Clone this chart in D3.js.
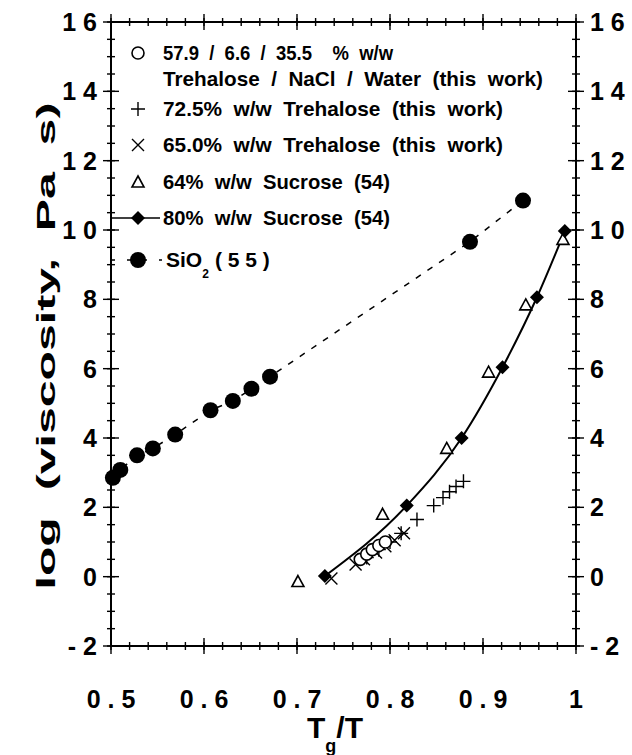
<!DOCTYPE html>
<html>
<head>
<meta charset="utf-8">
<script src="https://cdn.jsdelivr.net/npm/d3@7"></script>
<style>
  html, body { margin: 0; padding: 0; background: #fff; }
  svg text { font-family: "Liberation Sans", Arial, sans-serif; font-weight: bold; fill: #000; white-space: pre; }
</style>
</head>
<body>
<svg id="chart" width="632" height="755"></svg>
<script>
// data: [Tg/T, log viscosity]
var trehNaClWater = [[0.768, 0.5], [0.775, 0.65], [0.781, 0.78], [0.788, 0.9], [0.795, 1.0]];
var treh725 = [[0.775, 0.55], [0.788, 0.78], [0.800, 1.0], [0.812, 1.25], [0.829, 1.65],
               [0.847, 2.05], [0.857, 2.28], [0.864, 2.45], [0.871, 2.6], [0.879, 2.75]];
var treh650 = [[0.737, -0.05], [0.763, 0.35], [0.772, 0.5], [0.785, 0.7], [0.795, 0.88],
               [0.805, 1.05], [0.815, 1.25]];
var sucrose64 = [[0.701, -0.14], [0.792, 1.8], [0.861, 3.7], [0.906, 5.9], [0.946, 7.84], [0.986, 9.73]];
var sucrose80 = [[0.730, 0.02], [0.818, 2.05], [0.877, 4.0], [0.921, 6.04], [0.958, 8.06], [0.988, 9.97]];
var silica = [[0.502, 2.85], [0.510, 3.08], [0.528, 3.5], [0.545, 3.7], [0.569, 4.1], [0.607, 4.8],
              [0.631, 5.07], [0.651, 5.42], [0.671, 5.77], [0.886, 9.66], [0.943, 10.85]];

var xMajor = [0.5, 0.6, 0.7, 0.8, 0.9, 1];
var xLabels = ['0.5', '0.6', '0.7', '0.8', '0.9', '1'];
var yMajor = [-2, 0, 2, 4, 6, 8, 10, 12, 14, 16];
var yLabels = ['- 2', '0', '2', '4', '6', '8', '1 0', '1 2', '1 4', '1 6'];

var legendRows = [
  {sym: 'circle', text: '57.9  /  6.6  /  35.5    %  w/w', w: 230},
  {sym: null, text: 'Trehalose  /  NaCl  /  Water  (this  work)', w: 380},
  {sym: 'plus', text: '72.5%  w/w  Trehalose  (this  work)', w: 340},
  {sym: 'cross', text: '65.0%  w/w  Trehalose  (this  work)', w: 340},
  {sym: 'triangle', text: '64%  w/w  Sucrose  (54)', w: 227},
  {sym: 'diamond', text: '80%  w/w  Sucrose  (54)', w: 227},
  {sym: 'dot', text: 'SiO', w: 36}
];
var legendY = [53, 79, 109, 145, 182, 218, 260];

(function() {
  var svg = d3.select('#chart');
  var x = d3.scaleLinear().domain([0.5, 1]).range([111, 576]);
  var y = d3.scaleLinear().domain([-2, 16]).range([646, 22]);
  var x0 = x.range()[0], x1 = x.range()[1], yb = y.range()[0], yt = y.range()[1];

  // frame
  svg.append('rect')
    .attr('x', x0).attr('y', yt)
    .attr('width', x1 - x0).attr('height', yb - yt)
    .attr('fill', 'none').attr('stroke', '#000').attr('stroke-width', 2);

  var g = svg.append('g').attr('stroke', '#000').attr('stroke-width', 1.4);
  var xMinor = d3.range(0.5, 1.0001, 0.02);
  var yMinor = d3.range(-2, 16.0001, 0.5);

  [yb, yt].forEach(function(py) {
    g.selectAll(null).data(xMinor).enter().append('line')
      .attr('x1', function(d) { return x(d); }).attr('x2', function(d) { return x(d); })
      .attr('y1', py - 4).attr('y2', py + 4);
    g.selectAll(null).data(xMajor).enter().append('line')
      .attr('x1', function(d) { return x(d); }).attr('x2', function(d) { return x(d); })
      .attr('y1', py - 8).attr('y2', py + 8);
  });
  [x0, x1].forEach(function(px) {
    g.selectAll(null).data(yMinor).enter().append('line')
      .attr('y1', function(d) { return y(d); }).attr('y2', function(d) { return y(d); })
      .attr('x1', px - 4).attr('x2', px + 4);
    g.selectAll(null).data(yMajor).enter().append('line')
      .attr('y1', function(d) { return y(d); }).attr('y2', function(d) { return y(d); })
      .attr('x1', px - 8).attr('x2', px + 8);
  });

  // tick labels
  svg.selectAll('text.xl').data(xMajor).enter().append('text')
    .attr('class', 'xl')
    .attr('x', function(d) { return x(d); })
    .attr('y', 708)
    .attr('text-anchor', 'middle')
    .attr('font-size', 25)
    .text(function(d, i) { return xLabels[i].split('').join(' '); });

  svg.selectAll('text.yl').data(yMajor).enter().append('text')
    .attr('class', 'yl')
    .attr('x', 97)
    .attr('y', function(d) { return y(d) + 9; })
    .attr('text-anchor', 'end')
    .attr('font-size', 25)
    .text(function(d, i) { return yLabels[i]; });

  svg.selectAll('text.yr').data(yMajor).enter().append('text')
    .attr('class', 'yr')
    .attr('x', 590)
    .attr('y', function(d) { return y(d) + 9; })
    .attr('font-size', 25)
    .text(function(d, i) { return yLabels[i]; });

  // axis titles
  svg.append('text')
    .attr('transform', 'translate(55,346) rotate(-90)')
    .attr('text-anchor', 'middle')
    .attr('font-size', 26)
    .attr('textLength', 487)
    .attr('lengthAdjust', 'spacingAndGlyphs')
    .text('log  (viscosity,  Pa  s)');

  var xt = svg.append('text').attr('x', 307).attr('y', 738).attr('font-size', 30);
  xt.append('tspan').text('T');
  xt.append('tspan').attr('font-size', 18).attr('dy', 14).text('g');
  xt.append('tspan').attr('dy', -14).text('/T');

  // symbol drawers
  function drawSym(sel, kind) {
    if (kind === 'circle') {
      sel.append('circle').attr('r', 6).attr('fill', '#fff').attr('stroke', '#000').attr('stroke-width', 1.6);
    } else if (kind === 'plus') {
      sel.append('path').attr('d', 'M-7,0H7M0,-7V7').attr('stroke', '#000').attr('stroke-width', 1.4).attr('fill', 'none');
    } else if (kind === 'cross') {
      sel.append('path').attr('d', 'M-6,-6L6,6M-6,6L6,-6').attr('stroke', '#000').attr('stroke-width', 1.4).attr('fill', 'none');
    } else if (kind === 'triangle') {
      sel.append('path').attr('d', 'M0,-6L6,5H-6Z').attr('fill', '#fff').attr('stroke', '#000').attr('stroke-width', 1.6);
    } else if (kind === 'diamond') {
      sel.append('path').attr('d', 'M0,-7L7,0L0,7L-7,0Z').attr('fill', '#000');
    } else if (kind === 'dot') {
      sel.append('circle').attr('r', 8).attr('fill', '#000');
    }
  }

  // lines
  var line = d3.line().x(function(d) { return x(d[0]); }).y(function(d) { return y(d[1]); });
  svg.append('path').datum(silica)
    .attr('d', line)
    .attr('fill', 'none').attr('stroke', '#000').attr('stroke-width', 1.5)
    .attr('stroke-dasharray', '6,8');
  svg.append('path').datum(sucrose80)
    .attr('d', line.curve(d3.curveMonotoneX))
    .attr('fill', 'none').attr('stroke', '#000').attr('stroke-width', 2);

  function series(data, kind) {
    svg.append('g').selectAll('g').data(data).enter().append('g')
      .attr('transform', function(d) { return 'translate(' + x(d[0]) + ',' + y(d[1]) + ')'; })
      .each(function() { drawSym(d3.select(this), kind); });
  }
  series(silica, 'dot');
  series(sucrose64, 'triangle');
  series(treh650, 'cross');
  series(treh725, 'plus');
  series(trehNaClWater, 'circle');
  series(sucrose80, 'diamond');

  // legend
  svg.append('line').attr('x1', x0).attr('x2', 160).attr('y1', legendY[5]).attr('y2', legendY[5])
    .attr('stroke', '#000').attr('stroke-width', 1.5);
  svg.append('line').attr('x1', x0).attr('x2', 162).attr('y1', legendY[6]).attr('y2', legendY[6])
    .attr('stroke', '#000').attr('stroke-width', 1.5).attr('stroke-dasharray', '4,12');

  legendRows.forEach(function(r, i) {
    if (r.sym) drawSym(svg.append('g').attr('transform', 'translate(138,' + legendY[i] + ')'), r.sym);
    var t = svg.append('text')
      .attr('x', i === 6 ? 166 : 163)
      .attr('y', legendY[i] + 7)
      .attr('font-size', 21);
    if (i === 6) {
      t.append('tspan').text(r.text);
      t.append('tspan').attr('font-size', 12).attr('dy', 11).text('2');
      t.append('tspan').attr('dy', -11).attr('dx', 6).text('( 5 5 )');
    } else {
      t.attr('textLength', r.w).attr('lengthAdjust', 'spacingAndGlyphs').text(r.text);
    }
  });
})();
</script>
</body>
</html>
